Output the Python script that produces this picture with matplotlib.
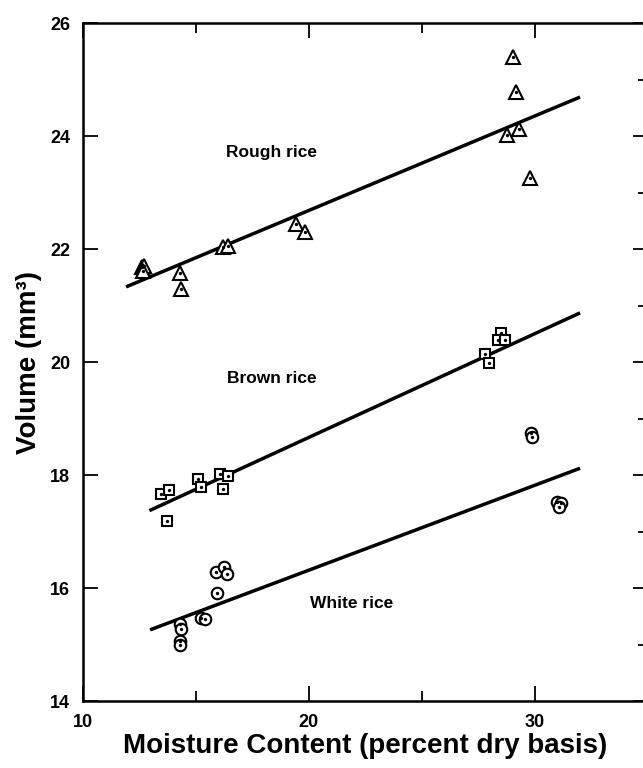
import matplotlib
matplotlib.use("Agg")
import matplotlib.pyplot as plt
from matplotlib.ticker import MultipleLocator, FixedLocator

plt.rcParams['font.family'] = ['Liberation Sans', 'DejaVu Sans']
plt.rcParams['font.weight'] = 'bold'

# measured points (moisture %, volume mm3)
rough_x = [12.61, 12.73, 12.65, 14.31, 14.35, 16.22, 16.44, 19.44, 19.84,
           29.04, 29.17, 28.77, 29.31, 29.79]
rough_y = [21.69, 21.70, 21.62, 21.58, 21.30, 22.04, 22.05, 22.44, 22.31,
           25.40, 24.78, 24.02, 24.12, 23.26]

brown_x = [13.45, 13.82, 13.72, 15.12, 15.23, 16.08, 16.42, 16.19,
           28.50, 28.36, 28.70, 27.80, 27.98]
brown_y = [17.66, 17.73, 17.19, 17.93, 17.78, 18.02, 17.99, 17.75,
           20.51, 20.39, 20.39, 20.14, 19.99]

white_x = [15.90, 16.25, 16.37, 15.93, 15.23, 15.41, 14.31, 14.34, 14.31, 14.31,
           29.84, 29.87, 31.00, 31.15, 31.09]
white_y = [16.29, 16.38, 16.25, 15.91, 15.47, 15.45, 15.36, 15.27, 15.07, 14.99,
           18.75, 18.68, 17.53, 17.50, 17.44]

# fitted lines (end points)
rough_fit_x = [11.92, 32.0]
rough_fit_y = [21.33, 24.69]
brown_fit_x = [12.95, 32.0]
brown_fit_y = [17.37, 20.87]
white_fit_x = [12.98, 32.0]
white_fit_y = [15.26, 18.12]

labels = ["Rough rice", "Brown rice", "White rice"]
label_x = [18.33, 18.37, 21.88]
label_y = [23.70, 19.71, 15.73]

fig = plt.figure(figsize=(6.43, 7.68), dpi=100)
ax = fig.add_axes([0.1286, 0.0872, 0.879, 0.8828])

for fx, fy in [(rough_fit_x, rough_fit_y), (brown_fit_x, brown_fit_y), (white_fit_x, white_fit_y)]:
    ax.plot(fx, fy, color="black", lw=2.5, solid_capstyle="butt", zorder=2)

for xs, ys, m, ms in [(rough_x, rough_y, "^", 9.5), (brown_x, brown_y, "s", 6.8), (white_x, white_y, "o", 8.3)]:
    ax.plot(xs, ys, ls="none", marker=m, ms=ms, mfc="white", mec="black", mew=1.5, zorder=3)
    ax.plot(xs, ys, ls="none", marker=".", ms=2.8, color="black", zorder=4)

for t, tx, ty in zip(labels, label_x, label_y):
    ax.text(tx, ty, t, ha="center", va="center", fontsize=12.5, fontweight="bold")

ax.set_xlim(10, 35)
ax.set_ylim(14, 26)
ax.xaxis.set_major_locator(FixedLocator([10, 20, 30]))
ax.xaxis.set_minor_locator(FixedLocator([15, 25]))
ax.yaxis.set_major_locator(MultipleLocator(2))
ax.yaxis.set_minor_locator(MultipleLocator(1))

ax.tick_params(which="both", direction="in", top=True, right=True, width=1.3,
               labelsize=13, pad=9)
ax.tick_params(which="major", length=11)
ax.tick_params(which="minor", length=7)
ax.tick_params(axis="y", which="minor", left=False)
for lab in ax.get_xticklabels() + ax.get_yticklabels():
    lab.set_fontweight("bold")

for s in ax.spines.values():
    s.set_linewidth(1.8)

ax.set_xlabel("Moisture Content (percent dry basis)", fontsize=20, fontweight="bold", labelpad=2)
ax.set_ylabel("Volume (mm³)", fontsize=20, fontweight="bold", labelpad=6)

fig.savefig("out.png", dpi=100)
